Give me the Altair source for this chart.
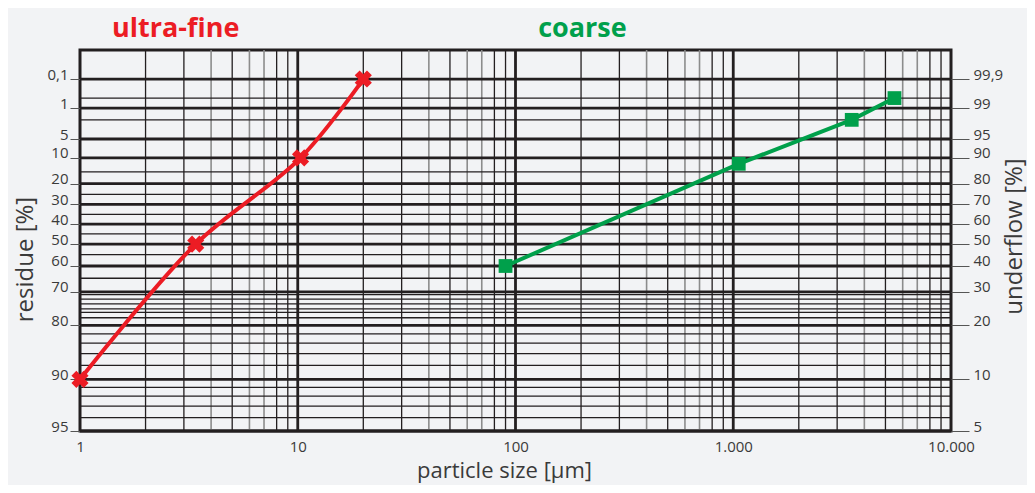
import altair as alt
import numpy as np
import pandas as pd

# ---------------- data ----------------
fine_size = [1, 3.4, 10.3, 20]
fine_residue = [90, 50, 10, 0.1]

coarse_size = [90, 1060, 3500, 5500]
coarse_residue = [60, 12, 2, 0.5]

residue_ticks = [0.1, 1, 5, 10, 20, 30, 40, 50, 60, 70, 80, 90, 95]
residue_minor = [0.5, 2, 15, 25, 35, 45, 55, 65, 71, 72.5, 74, 75.5, 76.5, 78,
                 82, 84, 86, 88, 91, 92, 93, 94]

size_labels = [1, 10, 100, 1000, 10000]
size_decades = [10, 100, 1000]
minor_dark_steps = [2, 3, 5, 8, 9]
minor_gray_steps = [4, 6, 7]

title_labels = ["ultra-fine", "coarse"]
title_sizes = [2.75, 203]
title_colors = ["#ec1c24", "#00a04b"]

# ---------------- styling ----------------
RED = "#ec1c24"
GREEN = "#00a04b"
DARK = "#231f20"
GRAY = "#8c8c8c"
BG = "#f2f3f5"
TXT = "#3a3a3a"
FONT = "Open Sans"
W, H = 871, 381


def rrsb(r):
    """Rosin-Rammler-Sperling-Bennett ordinate for residue R in %."""
    return np.log10(np.log(100.0 / np.asarray(r, dtype=float)))


xs = alt.Scale(type="log", domain=[1, 10000], nice=False)
ys = alt.Scale(domain=[float(rrsb(95)), 1.015], nice=False, zero=False)

major_df = pd.DataFrame({"t": rrsb(residue_ticks)})
minor_df = pd.DataFrame({"t": rrsb(residue_minor)})
dec_df = pd.DataFrame({"s": size_decades})
mdark_df = pd.DataFrame({"s": [d * k for d in [1, 10, 100, 1000] for k in minor_dark_steps]})
mgray_df = pd.DataFrame({"s": [d * k for d in [1, 10, 100, 1000] for k in minor_gray_steps]})
lab_df = pd.DataFrame({"s": size_labels})

fine_df = pd.DataFrame({"s": fine_size, "t": rrsb(fine_residue)})
coarse_df = pd.DataFrame({"s": coarse_size, "t": rrsb(coarse_residue)})
ann_df = pd.DataFrame({"label": title_labels, "s": title_sizes, "color": title_colors})

tick_vals = [float(v) for v in major_df["t"]]

left_axis = alt.Axis(
    orient="left", values=tick_vals,
    labelExpr="replace(format(100/exp(pow(10, datum.value)), '.2~f'), '.', ',')",
    title="residue [%]", grid=False, domain=False,
    ticks=True, tickSize=10, tickColor="#555555", tickWidth=1,
    labelPadding=2, labelBaseline="alphabetic", labelAlign="right",
    labelFont=FONT, labelFontSize=15, labelColor=TXT,
    titleFont=FONT, titleFontSize=24, titleFontWeight="normal", titleColor=TXT,
    titleAngle=270, titleX=-48, titleY=209, titleAlign="center",
    titleBaseline="alphabetic",
)
right_axis = alt.Axis(
    orient="right", values=tick_vals,
    labelExpr="replace(format(100 - 100/exp(pow(10, datum.value)), '.2~f'), '.', ',')",
    title="underflow [%]", grid=False, domain=False,
    ticks=True, tickSize=18, tickColor="#555555", tickWidth=1,
    labelPadding=4, labelBaseline="alphabetic", labelAlign="left",
    labelFont=FONT, labelFontSize=15, labelColor=TXT,
    titleFont=FONT, titleFontSize=24, titleFontWeight="normal", titleColor=TXT,
    titleAngle=270, titleX=70, titleY=186, titleAlign="center",
    titleBaseline="alphabetic",
)
x_axis = alt.Axis(
    values=size_labels,
    labelExpr="replace(format(datum.value, ','), ',', '.')",
    title="particle size [µm]", grid=False, domain=False, ticks=False,
    labelPadding=8, labelFont=FONT, labelFontSize=15, labelColor=TXT,
    labelFlush=False,
    titleFont=FONT, titleFontSize=22, titleFontWeight="normal", titleColor=TXT,
    titleX=424, titleY=46, titleAlign="center", titleBaseline="alphabetic",
)

h_minor = alt.Chart(minor_df).mark_rule(color=DARK, strokeWidth=1.3).encode(
    y=alt.Y("t:Q", scale=ys, axis=None))
h_major = alt.Chart(major_df).mark_rule(color=DARK, strokeWidth=2.8).encode(
    y=alt.Y("t:Q", scale=ys, axis=left_axis))
h_right = alt.Chart(major_df).mark_rule(opacity=0).encode(
    y=alt.Y("t:Q", scale=ys, axis=right_axis))

v_gray = alt.Chart(mgray_df).mark_rule(color=GRAY, strokeWidth=1.6).encode(
    x=alt.X("s:Q", scale=xs, axis=None))
v_dark = alt.Chart(mdark_df).mark_rule(color=DARK, strokeWidth=1.3).encode(
    x=alt.X("s:Q", scale=xs, axis=None))
v_dec = alt.Chart(dec_df).mark_rule(color=DARK, strokeWidth=2.8).encode(
    x=alt.X("s:Q", scale=xs, axis=None))
v_axis = alt.Chart(lab_df).mark_rule(opacity=0).encode(
    x=alt.X("s:Q", scale=xs, axis=x_axis))

enc = dict(
    x=alt.X("s:Q", scale=xs, axis=None),
    y=alt.Y("t:Q", scale=ys, axis=None),
)
fine_line = alt.Chart(fine_df).mark_line(
    color=RED, strokeWidth=4, interpolate="catmull-rom").encode(order="s:Q", **enc)
fine_pts = alt.Chart(fine_df).mark_point(
    shape="cross", angle=45, filled=True, size=300, color=RED, opacity=1).encode(**enc)
coarse_line = alt.Chart(coarse_df).mark_line(
    color=GREEN, strokeWidth=4).encode(order="s:Q", **enc)
coarse_pts = alt.Chart(coarse_df).mark_point(
    shape="square", filled=True, size=190, color=GREEN, opacity=1).encode(**enc)

titles = alt.Chart(ann_df).mark_text(
    font=FONT, fontWeight="bold", fontSize=27, baseline="alphabetic", align="center"
).encode(
    x=alt.X("s:Q", scale=xs, axis=None),
    y=alt.value(-13),
    text="label:N",
    color=alt.Color("color:N", scale=None),
)

chart = alt.layer(
    v_gray, v_dark, h_minor, h_major, h_right, v_dec, v_axis,
    fine_line, fine_pts, coarse_line, coarse_pts, titles,
).resolve_axis(x="independent", y="independent").properties(
    width=W, height=H,
    padding={"left": 72, "top": 42, "right": 76, "bottom": 54},
    autosize=alt.AutoSizeParams(type="none"),
    background=BG,
).configure_view(stroke=DARK, strokeWidth=3)

chart.save("out.html", embed_options={"renderer": "svg", "actions": False})
